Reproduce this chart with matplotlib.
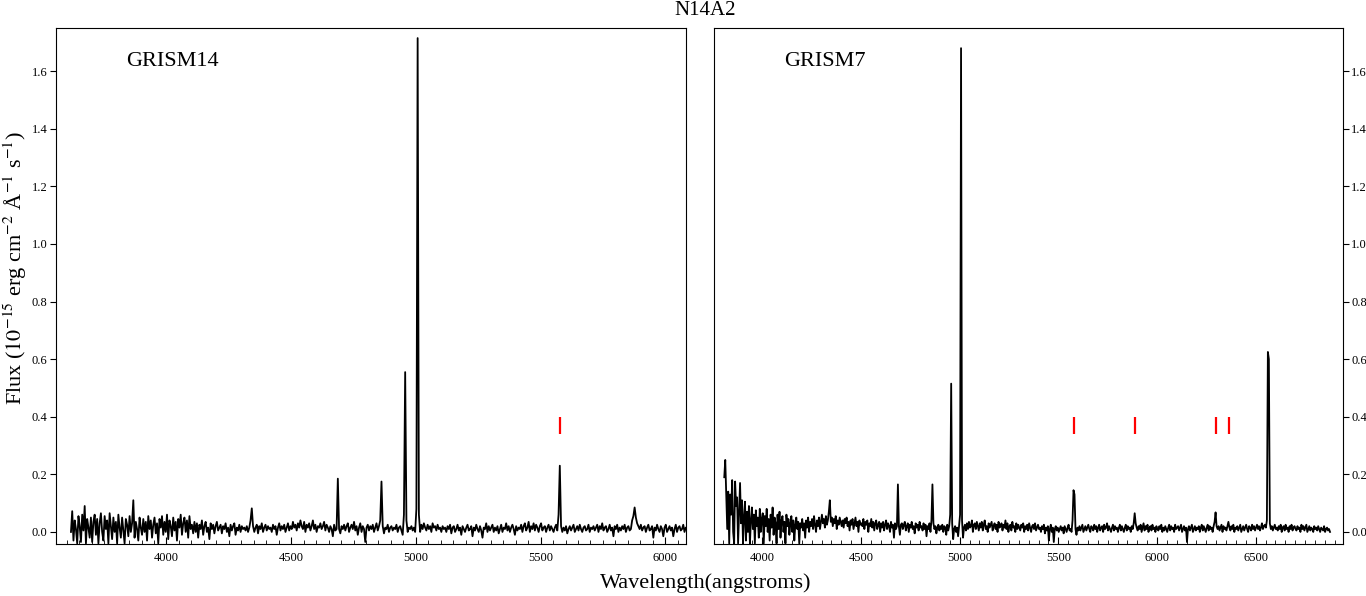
import numpy as np
import matplotlib
matplotlib.use('Agg')
import matplotlib.pyplot as plt
from matplotlib.ticker import MultipleLocator

plt.rcParams['font.family'] = 'serif'
plt.rcParams['font.serif'] = ['Liberation Serif', 'DejaVu Serif']
plt.rcParams['mathtext.fontset'] = 'stix'

# GRISM14 spectrum, flux in 1e-18 units (milli of the axis unit), 5 A steps from 3617 A
wave14_start, wave14_step = 3617, 5
flux14_milli = [
    0, 72, -30, 40, 10, -40, 55, 20, -35, 60, 5, 90, -40, 45, 15, -20, 50, -35, 35, 60,
    -10, 45, -40, 30, 65, 0, -30, 55, 10, 40, -40, 65, 20, -25, 50, 0, 35, -40, 60, 15,
    -20, 50, 5, -40, 45, 25, -15, 55, 0, 30, 110, -20, 35, 10, -30, 50, 15, -10, 45, 0,
    35, -30, 55, 10, 40, -20, 25, 50, -5, 30, -40, 45, 15, 55, -10, 35, 0, 60, -25, 40,
    20, -15, 50, 5, 35, -30, 45, 15, 60, -10, 30, 50, 0, 40, -20, 55, 10, 25, -5, 35,
    0, 30, -20, 25, 10, 40, -10, 20, 35, 0, 15, -25, 30, 10, 25, -5, 20, 35, 5, 15,
    25, -5, 20, 10, 30, 0, 15, -15, 25, 5, 20, 30, -10, 15, 5, 25, 0, 20, 10, 15,
    5, 20, 0, 15, 40, 82, 20, 0, 15, 25, -5, 20, 10, 30, 0, 15, 25, 5, 20, 10,
    15, 0, 25, 10, 20, -10, 15, 30, 5, 20, 10, 25, 0, 15, 30, 5, 20, 10, 35, 15,
    25, 5, 30, 15, 40, 20, 10, 35, 0, 25, 15, 30, 5, 20, 40, 10, 25, 0, 20, 15,
    30, 10, 20, 35, 5, 25, 15, 0, 20, 10, -15, 25, 5, 10, 185, 10, -5, 20, 10, 25,
    5, 20, 30, 0, 15, 25, 10, 35, 5, 20, -10, 15, 30, 0, 20, 10, -35, 15, 25, 5,
    20, 10, 25, 0, 15, 30, 5, 20, 40, 175, 20, -5, 15, 10, 25, 0, 15, 20, 5, 15,
    10, 25, 0, 15, 20, 5, -10, 60, 555, 40, 0, 15, 10, 20, 5, 15, 0, 80, 1715, 60,
    0, 25, 10, 30, 15, 5, 25, 10, 20, 0, 30, 15, 20, 5, 25, 10, 15, 0, 20, 10,
    15, 0, 20, 10, 25, -5, 15, 20, 0, 10, 25, 5, 15, -10, 20, 10, 0, 15, 25, 5,
    10, 20, -15, 15, 5, 25, 10, 0, 20, 5, -20, 15, 10, 30, 0, 20, 5, 15, 25, 0,
    15, 5, 20, -5, 10, 25, 0, 15, 10, 30, 5, 20, 0, 15, 25, 10, -10, 20, 5, 15,
    10, 25, 0, 20, 30, 5, 15, 35, 0, 20, 10, 30, 5, 25, 15, 0, 20, 30, 5, 15,
    20, 0, 15, 25, 5, 20, 10, 0, 15, 25, 5, 60, 230, 20, 0, 15, 5, 20, -5, 10,
    20, 5, 15, 25, 0, 10, 20, 5, 25, 10, 0, 15, 20, 5, 10, 25, 0, 15, 10, 20,
    5, 15, 25, 0, 20, 10, 30, 5, 15, 20, 0, 10, 25, 5, 15, -15, 20, 10, 25, 0,
    15, 5, 20, 10, 25, 0, 15, 20, 5, 10, 40, 55, 85, 50, 30, 20, 10, 25, 5, 15,
    20, 0, 15, 25, 5, 10, 20, -20, 15, 5, 25, 10, 0, 20, 10, -15, 15, 25, 0, 10,
    20, 5, 15, -15, 10, 25, 0, 15, 20, 5, 10, 25, 0, 15, 10,
]

# GRISM7 spectrum, same units, 5 A steps from 3807 A
wave7_start, wave7_step = 3807, 5
flux7_milli = [
    190, 250, 130, 10, 140, -40, 130, 60, 180, 0, -40, 175, 90, 120, -40, 60, 170, 30, 110, -40,
    50, 105, -30, 70, 0, 90, -40, 40, 85, 10, 60, -40, 75, 20, 50, -20, 80, 0, 45, 65,
    -40, 55, 20, 80, 0, 45, -30, 60, 15, 85, -10, 50, 30, -40, 60, 10, 70, -20, 40, 55,
    0, 35, -40, 60, 20, 45, -10, 30, 55, 0, 40, -30, 25, 50, 10, 35, -40, 30, 15, 45,
    5, 30, -20, 40, 15, 50, 0, 35, 20, 45, 10, 55, 25, 0, 40, 20, 50, 10, 35, 60,
    30, 45, 15, 55, 25, 40, 70, 110, 35, 50, 20, 45, 30, 55, 10, 40, 25, 50, 35, 20,
    40, 15, 45, 30, 50, 20, 35, 5, 40, 25, 45, 10, 30, 50, 20, 35, 0, 40, 25, 30,
    20, 45, 10, 35, 25, 40, 0, 30, 20, 45, 15, 35, 5, 30, 40, 10, 25, 35, 0, 30,
    15, 35, 5, 25, 40, 10, 30, 20, 0, 35, 15, 25, -20, 30, 10, 20, 165, 20, -10, 25,
    30, 10, 25, 35, 5, 20, 30, 0, 25, 15, 35, 10, 20, -5, 30, 15, 25, 5, 35, 15,
    20, 5, 30, 10, 25, -15, 20, 10, 30, 0, 40, 165, 30, 10, 20, -5, 15, 25, 5, 20,
    10, 25, 0, 20, 15, -10, 25, 5, 20, 60, 515, 30, -25, 10, 20, 0, 15, -15, 20, 60,
    1680, 40, -20, 15, 25, 5, 30, 10, 35, 15, 20, 40, 0, 25, 30, 10, 35, 20, 5, 30,
    15, 35, 5, 25, 40, 10, 20, 0, 30, 15, 25, 35, 5, 20, 30, 10, 25, 0, 35, 15,
    20, 30, 5, 25, 15, 40, 10, 30, 0, 20, 25, 5, 35, 15, 20, 0, 30, 10, 25, 15,
    5, 25, 15, 30, 0, 20, 10, 25, 5, 30, 15, 0, 20, 25, 10, 30, 5, 15, 25, 10,
    15, 0, 20, 10, 25, -5, 15, 5, 20, -30, 10, 25, 0, 15, -35, 10, 20, 5, 15, 0,
    10, 20, 5, 15, -5, 20, 10, 0, 15, 25, 5, 10, 0, 40, 145, 130, 10, -10, 15, 5,
    20, 5, 15, 25, 0, 10, 20, 5, 15, 25, 10, 0, 20, 15, 5, 25, 10, 20, 0, 15,
    25, 5, 15, 20, 0, 25, 10, 15, 30, 5, 20, 10, 0, 15, 25, 5, 20, 10, 15, 0,
    15, 25, 5, 20, 10, 0, 15, 25, 5, 20, 10, 15, 0, 20, 10, 30, 65, 30, 15, 5,
    20, 10, 25, 0, 15, 30, 5, 20, 10, 25, 0, 15, 20, 5, 25, 10, 15, 0, 20, 10,
    5, 20, 10, 25, 0, 15, 5, 20, 10, 0, 15, 25, 5, 20, 10, 15, 0, 25, 10, 15,
    20, 5, 15, 25, 0, 10, 20, 5, 15, -35, 10, 20, 5, 15, 25, 0, 10, 20, 5, 15,
    10, 20, 0, 15, 25, 5, 20, 10, 0, 15, 25, 5, 20, 10, 15, 0, 20, 35, 68, 20,
    10, 20, 5, 15, 25, 0, 20, 10, 15, 5, 20, 35, 15, 5, 20, 10, 25, 0, 15, 10,
    20, 5, 15, 25, 0, 10, 20, 5, 15, 25, 10, 0, 20, 15, 5, 25, 10, 20, 5, 15,
    25, 10, 20, 5, 15, 30, 10, 20, 25, 15, 40, 625, 600, 30, 10, 20, 5, 15, 25, 10,
    15, 5, 20, 10, 25, 0, 15, 20, 5, 25, 10, 15, 0, 20, 10, 25, 5, 15, 20, 10,
    5, 20, 10, 15, 0, 25, 10, 20, 5, 15, 25, 0, 10, 20, 5, 15, 10, 0, 20, 10,
    15, 5, 20, 10, 0, 15, 10, 5, 20, 0, 10, 15, 5, 10, 0,
]

# sky line markers (A)
sky14 = [5577]
sky7 = [5577, 5890, 6300, 6364]

panels = [
    ('GRISM14', wave14_start, wave14_step, flux14_milli, sky14, (3557, 6083), 'left'),
    ('GRISM7', wave7_start, wave7_step, flux7_milli, sky7, (3755, 6943), 'right'),
]

fig = plt.figure(figsize=(13.66, 5.96), dpi=100)
boxes = [[0.041, 0.0872, 0.4612, 0.8658], [0.5227, 0.0872, 0.4605, 0.8658]]

for box, (name, w0, dw, flux_milli, sky, xlim, yside) in zip(boxes, panels):
    ax = fig.add_axes(box)
    flux = np.array(flux_milli) / 1000.0
    wave = w0 + dw * np.arange(len(flux))
    ax.plot(wave, flux, color='k', lw=1.3)
    ax.vlines(sky, 0.34, 0.40, color='red', lw=1.6)
    ax.text(0.112, 0.935, name, transform=ax.transAxes, size=16,
            ha='left', va='center')
    ax.set_xlim(*xlim)
    ax.set_ylim(-0.042, 1.75)
    ax.xaxis.set_major_locator(MultipleLocator(500))
    ax.xaxis.set_minor_locator(MultipleLocator(50))
    ax.yaxis.set_major_locator(MultipleLocator(0.2))
    ax.tick_params(axis='x', which='major', direction='in', length=5,
                   labelsize=9, pad=6)
    ax.tick_params(axis='x', which='minor', direction='in', length=3)
    ax.tick_params(axis='y', direction='out', length=4, labelsize=9, pad=2)
    if yside == 'right':
        ax.yaxis.tick_right()

fig.text(0.516, 0.983, 'N14A2', ha='center', va='center', size=15)
fig.text(0.517, 0.022, 'Wavelength(angstroms)', ha='center', va='center', size=16)
fig.text(0.011, 0.55, r'Flux ($10^{-15}$ erg cm$^{-2}$ Å$^{-1}$ s$^{-1}$)',
         rotation=90, ha='center', va='center', size=16)

fig.savefig('out.png', dpi=100)
